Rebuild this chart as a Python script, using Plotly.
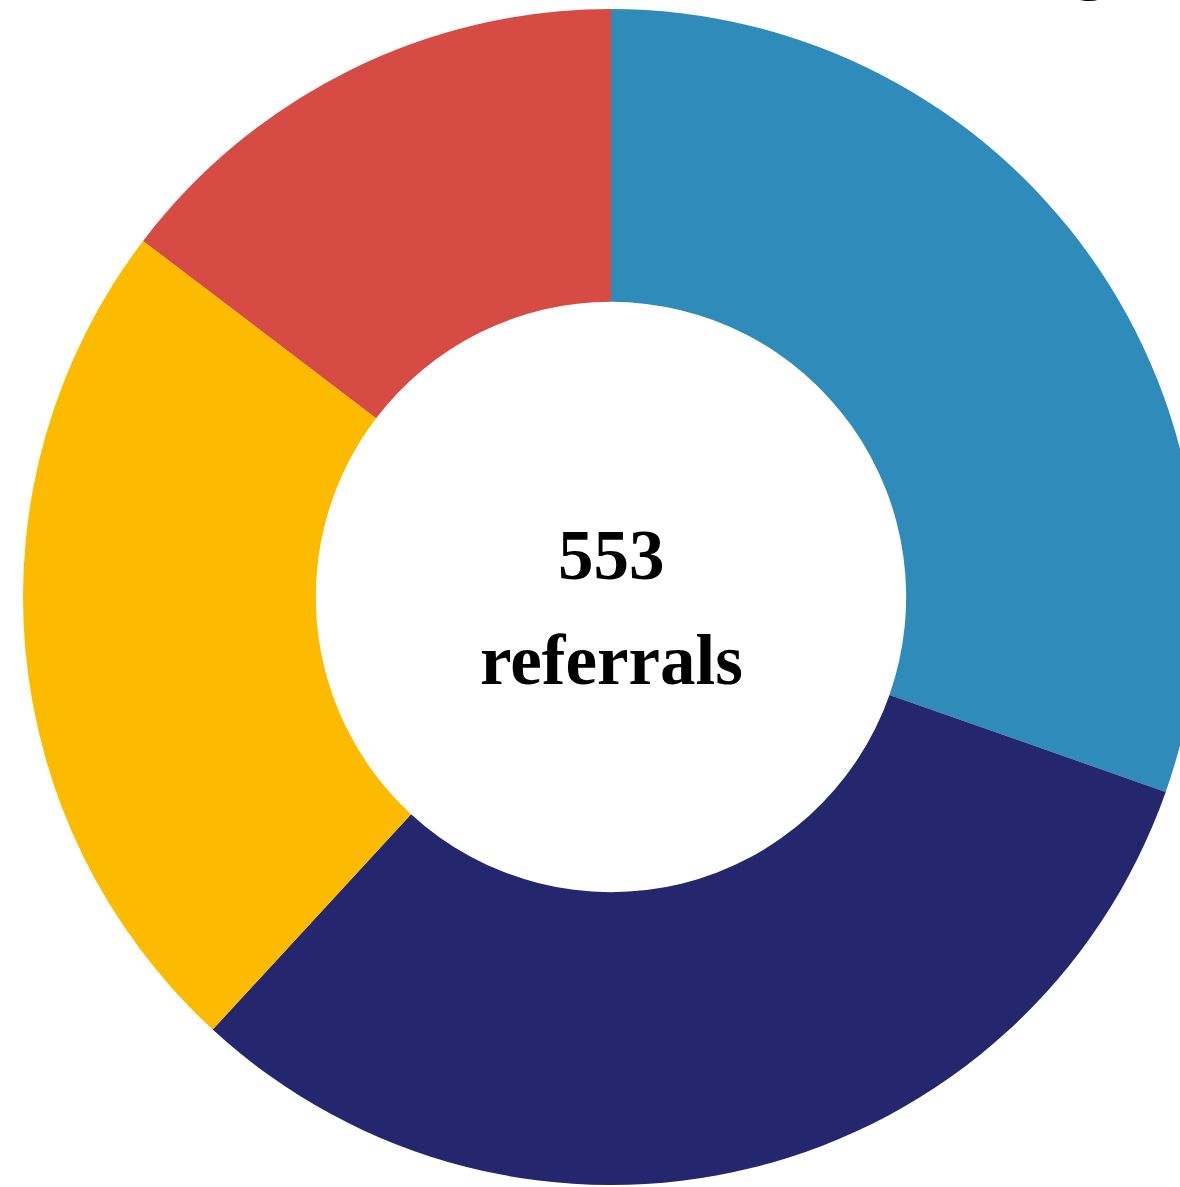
import plotly.graph_objects as go

# Data
categories = ["Category A", "Category B", "Category C", "Category D"]
values = [168, 174, 130, 81]
colors = ["#2E8BBA", "#24266E", "#FDBB00", "#D64C44"]
total_label = "553"
center_label = "referrals"

W, H = 1200, 1187

fig = go.Figure(
    go.Pie(
        labels=categories,
        values=values,
        hole=0.502,
        sort=False,
        direction="clockwise",
        rotation=0,
        marker=dict(colors=colors, line=dict(width=0)),
        textinfo="none",
        hoverinfo="label+value+percent",
        domain=dict(x=[23 / W, 1199 / W], y=[1 - 1185 / H, 1 - 9 / H]),
        showlegend=False,
    )
)

font_family = "Liberation Serif, Times New Roman, serif"

fig.update_layout(
    width=W,
    height=H,
    margin=dict(l=0, r=0, t=0, b=0),
    paper_bgcolor="white",
    plot_bgcolor="white",
    showlegend=False,
    annotations=[
        dict(text="<b>" + total_label + "</b>", x=611 / W, y=1 - 555 / H,
             xref="paper", yref="paper", xanchor="center", yanchor="middle",
             showarrow=False, font=dict(family=font_family, size=71, color="black")),
        dict(text="<b>" + center_label + "</b>", x=611 / W, y=1 - 660 / H,
             xref="paper", yref="paper", xanchor="center", yanchor="middle",
             showarrow=False, font=dict(family=font_family, size=71, color="black")),
        dict(text="<b>g</b>", x=1090 / W, y=1 - 4 / H,
             xref="paper", yref="paper", xanchor="center", yanchor="bottom",
             showarrow=False, font=dict(family=font_family, size=72, color="black")),
    ],
)

fig.write_html(
    "out.html",
    config={"displayModeBar": False},
    post_script="document.body.style.margin='0';document.body.style.overflow='hidden';",
)
